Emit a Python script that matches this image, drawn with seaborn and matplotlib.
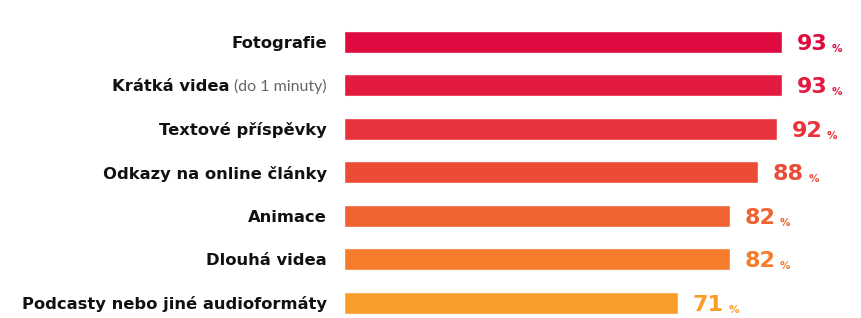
import matplotlib
matplotlib.use("Agg")
import matplotlib.pyplot as plt
import seaborn as sns
import pandas as pd

# Data
categories = [
    "Fotografie",
    "Krátká videa",
    "Textové příspěvky",
    "Odkazy na online články",
    "Animace",
    "Dlouhá videa",
    "Podcasty nebo jiné audioformáty",
]
category_notes = ["", "(do 1 minuty)", "", "", "", "", ""]
values = [93, 93, 92, 88, 82, 82, 71]
bar_colors = ["#DF0A3F", "#E31B40", "#E8333C", "#EC4B36", "#F0622F", "#F47C2A", "#F99D2B"]

df = pd.DataFrame({"category": categories, "value": values})

sns.set_theme(style="white")
plt.rcParams["font.family"] = ["DejaVu Sans"]

fig = plt.figure(figsize=(8.61, 3.18), dpi=100)
ax = fig.add_axes([344 / 861, 0.0, 471 / 861, 298 / 318])

sns.barplot(
    data=df,
    y="category",
    x="value",
    hue="category",
    palette=bar_colors,
    legend=False,
    width=0.5,
    orient="h",
    saturation=1,
    ax=ax,
)

ax.set_xlim(0, 100)
ax.set_ylim(6.35, -0.5)
ax.set_xlabel("")
ax.set_ylabel("")
ax.set_xticks([])
ax.set_yticks([])
sns.despine(ax=ax, left=True, bottom=True)

label_gap = 12.5  # points between label and bar start
renderer = fig.canvas.get_renderer()

# category labels (drawn by hand because of the mixed styling)
for i, (cat, note) in enumerate(zip(categories, category_notes)):
    offset = -label_gap
    if note:
        t = ax.annotate(note, xy=(0, i), xytext=(offset, 0), textcoords="offset points",
                        ha="right", va="center_baseline", fontsize=11.5,
                        color="#666666", family="Lato", fontweight="normal")
        w = t.get_window_extent(renderer).width * 72 / fig.dpi
        offset -= w + 3
    ax.annotate(cat, xy=(0, i), xytext=(offset, 0), textcoords="offset points",
                ha="right", va="center_baseline", fontsize=11.8,
                fontweight="bold", color="#111111")

# value labels
for i, (v, c) in enumerate(zip(values, bar_colors)):
    n = ax.annotate(str(v), xy=(v, i), xytext=(10.5, 0), textcoords="offset points",
                    ha="left", va="center_baseline", fontsize=16,
                    fontweight="bold", color=c)
    ax.annotate("%", xy=(1, 0), xycoords=n, xytext=(3, 0), textcoords="offset points",
                ha="left", va="bottom", fontsize=7.5, fontweight="bold", color=c)

fig.savefig("out.png", dpi=100)
